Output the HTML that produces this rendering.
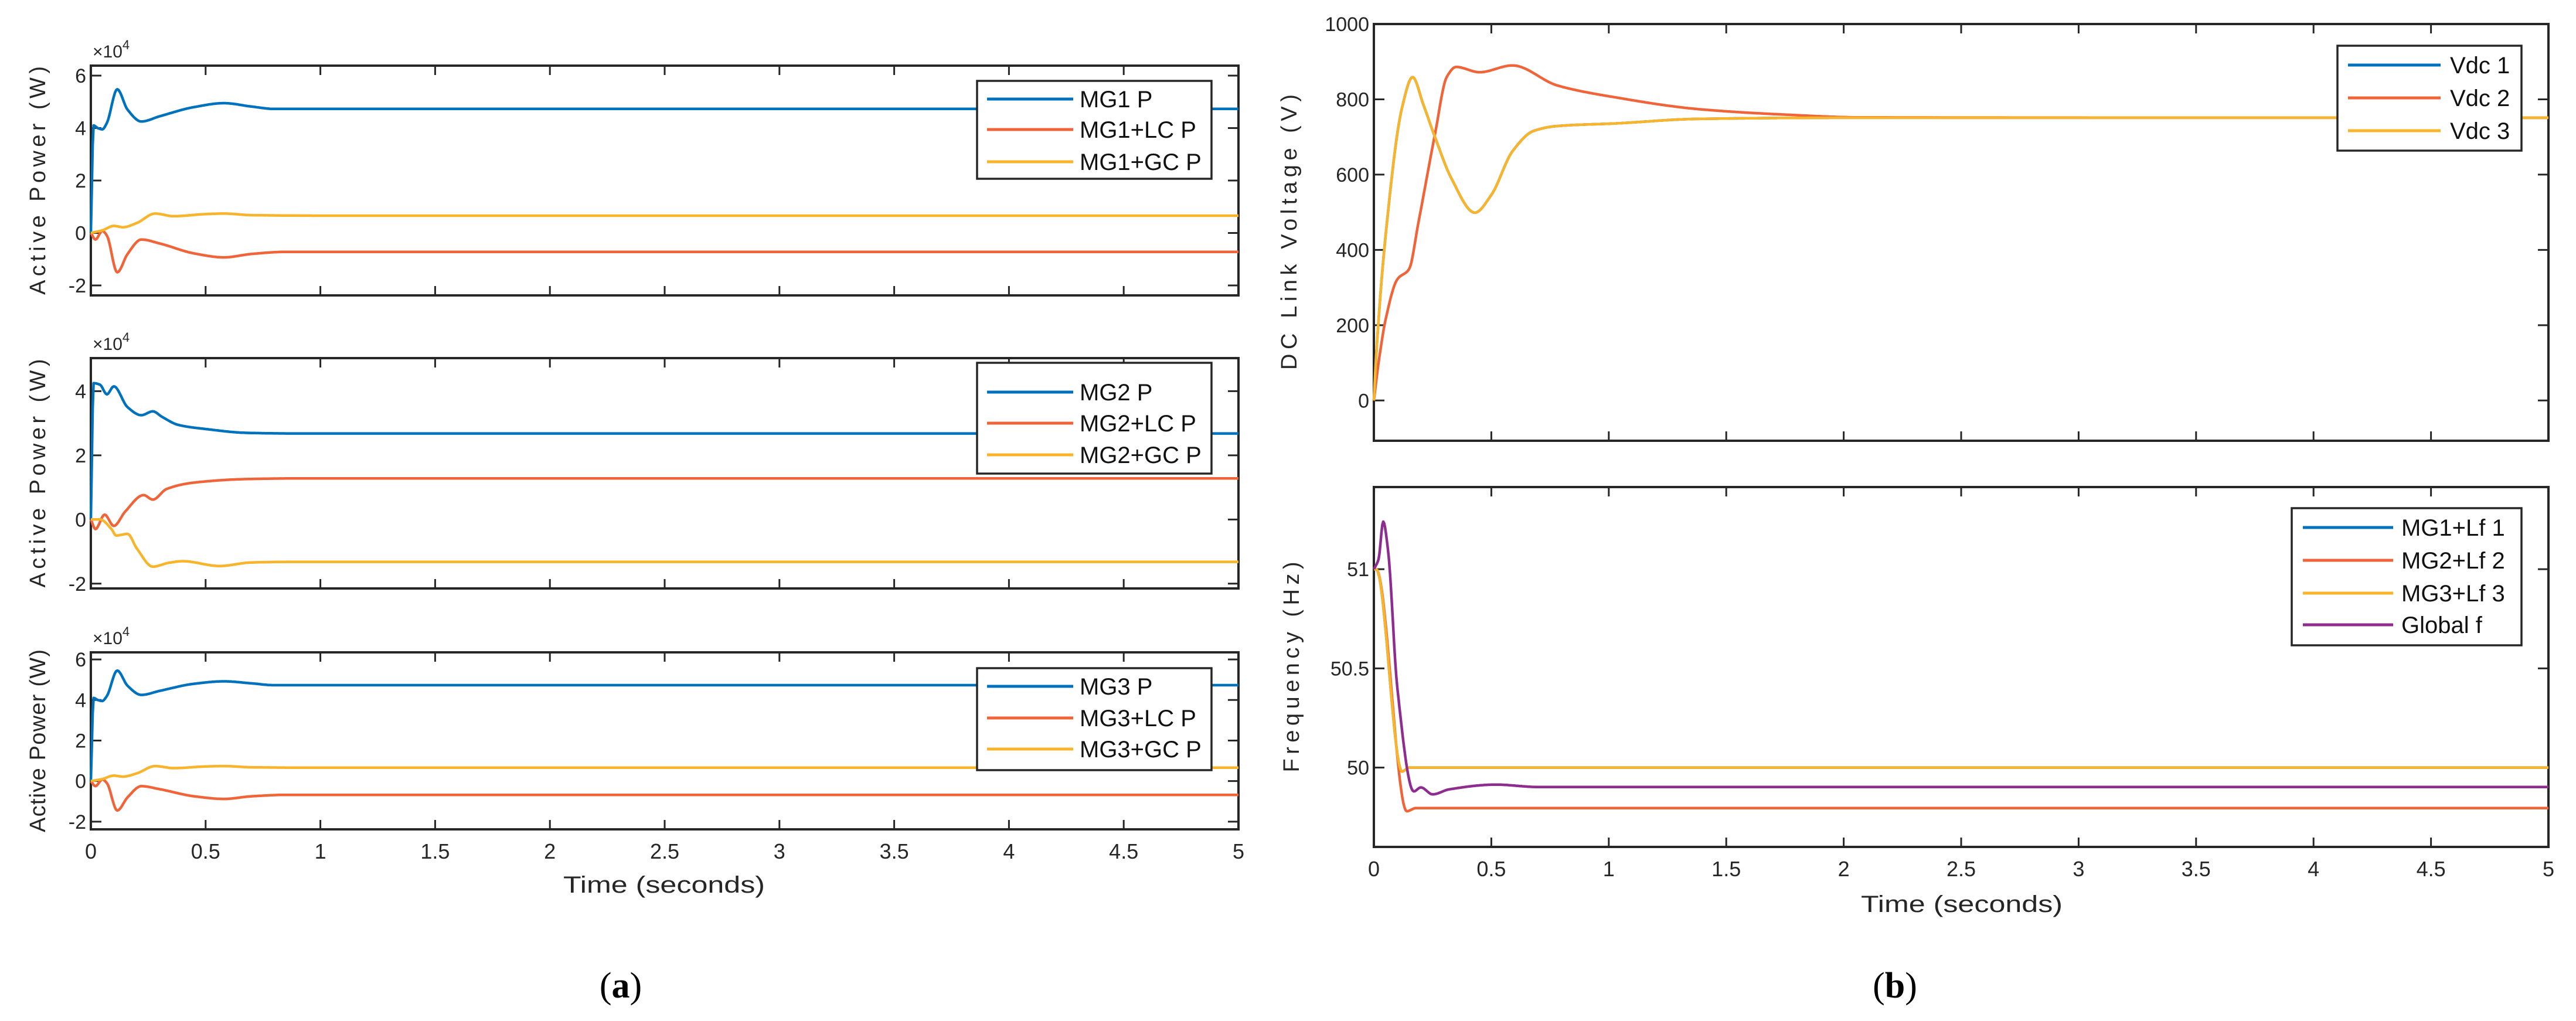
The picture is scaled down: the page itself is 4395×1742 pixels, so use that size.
<!DOCTYPE html>
<html><head><meta charset="utf-8"><style>
html,body{margin:0;padding:0;background:#fff;}
svg{display:block;font-family:"Liberation Sans",Arial,sans-serif;}
</style></head><body>
<svg id="fig" width="4395" height="1742" viewBox="0 0 4395 1742" xmlns="http://www.w3.org/2000/svg">
<rect x="0" y="0" width="4395" height="1742" fill="#fff"/>
</svg>
<script>
// ---------- data ----------
const xTicks = [0,0.5,1,1.5,2,2.5,3,3.5,4,4.5,5];
const xTickLabels = ["0","0.5","1","1.5","2","2.5","3","3.5","4","4.5","5"];
const pTicks = [-2,0,2,4,6];
const vTicks = [0,200,400,600,800,1000];
const fTicks = [50,50.5,51];
const fTickLabels = ["50","50.5","51"];

const mg1_t  = [0,0.012,0.03,0.05,0.07,0.115,0.16,0.22,0.3,0.45,0.58,0.7,0.8,1,5];
const mg1_p  = [0,4.1,4.0,3.95,4.2,5.48,4.7,4.25,4.45,4.8,4.95,4.82,4.73,4.73,4.73];
const mg1lc_t= [0,0.02,0.05,0.07,0.115,0.16,0.22,0.3,0.45,0.58,0.7,0.85,1,5];
const mg1lc_p= [0,-0.25,0.08,-0.1,-1.5,-0.8,-0.25,-0.4,-0.78,-0.93,-0.8,-0.72,-0.72,-0.72];
const mg1gc_t= [0,0.05,0.1,0.14,0.2,0.28,0.36,0.5,0.58,0.7,1,5];
const mg1gc_p= [0,0.1,0.27,0.22,0.38,0.74,0.64,0.72,0.74,0.68,0.66,0.66];

const mg2_t  = [0,0.012,0.04,0.07,0.1,0.16,0.22,0.27,0.31,0.38,0.5,0.68,0.9,5];
const mg2_p  = [0,4.25,4.2,3.9,4.15,3.5,3.25,3.37,3.2,2.95,2.82,2.7,2.68,2.68];
const mg2lc_t= [0,0.02,0.06,0.1,0.15,0.23,0.27,0.33,0.45,0.68,0.9,5];
const mg2lc_p= [0,-0.3,0.15,-0.2,0.25,0.76,0.62,0.95,1.15,1.26,1.28,1.28];
const mg2gc_t= [0,0.04,0.09,0.11,0.16,0.2,0.27,0.34,0.4,0.56,0.7,0.9,5];
const mg2gc_p= [0,0,-0.3,-0.5,-0.45,-0.9,-1.47,-1.35,-1.3,-1.45,-1.34,-1.32,-1.32];

const mg3_t  = [0,0.012,0.03,0.05,0.07,0.115,0.16,0.22,0.3,0.45,0.58,0.7,0.8,1,5];
const mg3_p  = [0,4.1,4.0,3.95,4.2,5.45,4.7,4.25,4.45,4.8,4.92,4.82,4.73,4.73,4.73];
const mg3lc_t= [0,0.02,0.05,0.07,0.115,0.16,0.22,0.3,0.45,0.58,0.7,0.85,1,5];
const mg3lc_p= [0,-0.25,0.08,-0.1,-1.45,-0.8,-0.25,-0.4,-0.75,-0.88,-0.75,-0.68,-0.68,-0.68];
const mg3gc_t= [0,0.05,0.1,0.14,0.2,0.28,0.36,0.5,0.58,0.7,1,5];
const mg3gc_p= [0,0.1,0.27,0.22,0.38,0.74,0.64,0.72,0.74,0.68,0.66,0.66];

const vdc2_t = [0,0.02,0.05,0.1,0.15,0.19,0.26,0.31,0.35,0.45,0.59,0.78,1.03,1.38,1.73,2.08,5];
const vdc2_v = [0,100,215,322,349,474,707,859,886,872,890,837,805,774,760,752,751];
const vdc3_t = [0,0.01,0.05,0.12,0.165,0.21,0.26,0.33,0.43,0.5,0.59,0.68,0.78,1.03,1.38,2,5];
const vdc3_v = [0,120,438,778,859,787,700,590,499,546,662,716,729,736,748,751,751];
const vdc1_t = [0,0.01,0.05,0.12,0.165,0.21,0.26,0.33,0.43,0.5,0.59,0.68,0.78,1.03,1.38,2,5];
const vdc1_v = [0,120,438,778,859,787,700,590,499,546,662,716,729,736,748,751,751];

const f1_t = [0,0.01,0.12,0.15,5];
const f1_v = [51,51,49.98,50,50];
const f2_t = [0,0.01,0.14,0.18,5];
const f2_v = [51,51,49.78,49.796,49.796];
const f3_t = [0,0.01,0.12,0.15,5];
const f3_v = [51,51,49.98,50,50];
const fg_t = [0,0.02,0.04,0.06,0.1,0.17,0.2,0.25,0.32,0.52,0.7,5];
const fg_v = [51,51.05,51.24,51.1,50.4,49.88,49.9,49.865,49.89,49.914,49.902,49.902];

const BLUE="#0072bd", ORANGE="#f0643a", YELLOW="#f8b42a", PURPLE="#8e2d8f";

// ---------- helpers ----------
const NS="http://www.w3.org/2000/svg";
const svg=document.getElementById('fig');
function mk(tag,attrs,parent){const e=document.createElementNS(NS,tag);for(const k in attrs)e.setAttribute(k,attrs[k]);(parent||svg).appendChild(e);return e;}
function linScale(d0,d1,r0,r1){return v=>r0+(v-d0)*(r1-r0)/(d1-d0);}
// monotone cubic (PCHIP) sampled as polyline in data space
function pchipPoints(ts,vs,xs,ys){
  const n=ts.length, h=[], d=[], m=new Array(n).fill(0);
  for(let i=0;i<n-1;i++){h[i]=ts[i+1]-ts[i];d[i]=(vs[i+1]-vs[i])/h[i];}
  m[0]=d[0]; m[n-1]=d[n-2];
  for(let i=1;i<n-1;i++){
    if(d[i-1]*d[i]<=0) m[i]=0;
    else{const w1=2*h[i]+h[i-1],w2=h[i]+2*h[i-1];m[i]=(w1+w2)/(w1/d[i-1]+w2/d[i]);}
  }
  const pts=[];
  for(let i=0;i<n-1;i++){
    const steps=Math.max(2,Math.min(60,Math.ceil((xs(ts[i+1])-xs(ts[i]))/2)));
    for(let k=0;k<steps;k++){
      const s=k/steps, s2=s*s, s3=s2*s;
      const v=(2*s3-3*s2+1)*vs[i]+(s3-2*s2+s)*h[i]*m[i]+(-2*s3+3*s2)*vs[i+1]+(s3-s2)*h[i]*m[i+1];
      pts.push([xs(ts[i]+s*h[i]),ys(v)]);
    }
  }
  pts.push([xs(ts[n-1]),ys(vs[n-1])]);
  return pts;
}
function axesBox(g,L,T,R,B,yTicks,yLabels,yScale,showX,xs){
  const fr=mk('rect',{x:L,y:T,width:R-L,height:B-T,fill:'none',stroke:'#262626','stroke-width':4},g);
  
  
  xTicks.forEach((t,i)=>{
    const x=xs(t);
    const a=mk('line',{x1:x,y1:B,x2:x,y2:B-16,stroke:'#262626','stroke-width':3},g);
    
    
    const b=mk('line',{x1:x,y1:T,x2:x,y2:T+16,stroke:'#262626','stroke-width':3},g);
    
    
    if(showX){
      const tx=mk('text',{x:x,y:B+50,'font-size':36,'text-anchor':'middle',fill:'#262626'},g);
      tx.textContent=xTickLabels[i];
      
      
    }
  });
  yTicks.forEach((v,i)=>{
    const y=yScale(v);
    const a=mk('line',{x1:L,y1:y,x2:L+18,y2:y,stroke:'#262626','stroke-width':3},g);
    
    
    const b=mk('line',{x1:R,y1:y,x2:R-18,y2:y,stroke:'#262626','stroke-width':3},g);
    
    
    const tx=mk('text',{x:L-8,y:y+12,'font-size':34,'text-anchor':'end',fill:'#262626'},g);
    tx.textContent=yLabels[i];
    
    
  });
}
function series(g,ts,vs,xs,ys,color,name){
  const pts=pchipPoints(ts,vs,xs,ys);
  const p=mk('polyline',{points:pts.map(q=>q[0].toFixed(1)+','+q[1].toFixed(1)).join(' '),fill:'none',stroke:color,'stroke-width':4.5,'stroke-linejoin':'round'},g);
  
  
}
function legend(g,x,y,w,h,rows,lx0,lx1,tx,names){
  const r=mk('rect',{x:x,y:y,width:w,height:h,fill:'#fff',stroke:'#262626','stroke-width':3.5},g);
  
  
  rows.forEach((row,i)=>{
    const l=mk('line',{x1:lx0,x2:lx1,y1:row[0],y2:row[0],stroke:row[1],'stroke-width':5},g);
    
    
    const t=mk('text',{x:tx,y:row[0]+14,'font-size':40,fill:'#111'},g);
    t.textContent=names[i];
    
    
  });
}
function ylabel(g,x,y,txt,len){
  const t=mk('text',{x:0,y:0,'font-size':38,'text-anchor':'middle',fill:'#262626',transform:`translate(${x},${y}) rotate(-90)`,textLength:len,lengthAdjust:'spacing'},g);
  t.textContent=txt;
  
  
}
function exponent(g,x,y){
  const t=mk('text',{x:x,y:y,'font-size':30,fill:'#262626'},g);
  t.textContent='×10';
  const s=mk('tspan',{dy:-14,'font-size':22},t);
  s.textContent='4';
  
  
}

// ---------- panel (a) ----------
const AL=155, AR=2113;
const xsA=linScale(0,5,AL,AR);
function powerPanel(name,T,B,ymin,ymax,ts,leg,names,showX){
  const g=mk('g',{});
  
  
  const ys=linScale(ymin,ymax,B,T);
  const tk=pTicks.filter(v=>v>=ymin&&v<=ymax);
  axesBox(g,AL,T,AR,B,tk,tk.map(String),ys,showX,xsA);
  series(g,ts[0],ts[1],xsA,ys,BLUE,'series-p');
  series(g,ts[2],ts[3],xsA,ys,ORANGE,'series-lc-p');
  series(g,ts[4],ts[5],xsA,ys,YELLOW,'series-gc-p');
  legend(g,1667,leg[0],400,leg[1]-leg[0],[[leg[2],BLUE],[leg[3],ORANGE],[leg[4],YELLOW]],1684,1831,1842,names);
  exponent(g,158,T-14);
  ylabel(g,77,(T+B)/2,'Active Power (W)',Math.min(390,B-T+10));
}
powerPanel('plot-mg1',112,504,-2.38,6.38,[mg1_t,mg1_p,mg1lc_t,mg1lc_p,mg1gc_t,mg1gc_p],[138,305,169,221,276],['MG1 P','MG1+LC P','MG1+GC P'],false);
powerPanel('plot-mg2',611,1004,-2.15,5.03,[mg2_t,mg2_p,mg2lc_t,mg2lc_p,mg2gc_t,mg2gc_p],[619,808,669,722,776],['MG2 P','MG2+LC P','MG2+GC P'],false);
powerPanel('plot-mg3',1113,1415,-2.38,6.35,[mg3_t,mg3_p,mg3lc_t,mg3lc_p,mg3gc_t,mg3gc_p],[1140,1314,1171,1225,1278],['MG3 P','MG3+LC P','MG3+GC P'],true);

// ---------- panel (b) ----------
const BL=2344, BR=4348;
const xsB=linScale(0,5,BL,BR);
(function(){
  const g=mk('g',{});
  
  
  const T=41,B=752;
  const ys=linScale(-107,1000,B,T);
  axesBox(g,BL,T,BR,B,vTicks,vTicks.map(String),ys,false,xsB);
  series(g,vdc1_t,vdc1_v,xsB,ys,BLUE,'series-vdc1');
  series(g,vdc2_t,vdc2_v,xsB,ys,ORANGE,'series-vdc2');
  series(g,vdc3_t,vdc3_v,xsB,ys,YELLOW,'series-vdc3');
  legend(g,3988,78,314,179,[[111,BLUE],[167,ORANGE],[223,YELLOW]],4006,4164,4180,['Vdc 1','Vdc 2','Vdc 3']);
  ylabel(g,2212,396,'DC Link Voltage (V)',470);
})();
(function(){
  const g=mk('g',{});
  
  
  const T=831,B=1445;
  const ys=linScale(49.6,51.414,B,T);
  axesBox(g,BL,T,BR,B,fTicks,fTickLabels,ys,true,xsB);
  series(g,f1_t,f1_v,xsB,ys,BLUE,'series-mg1-f');
  series(g,f2_t,f2_v,xsB,ys,ORANGE,'series-mg2-f');
  series(g,f3_t,f3_v,xsB,ys,YELLOW,'series-mg3-f');
  series(g,fg_t,fg_v,xsB,ys,PURPLE,'series-global-f');
  legend(g,3910,867,392,234,[[900,BLUE],[956,ORANGE],[1012,YELLOW],[1066,PURPLE]],3929,4083,4097,['MG1+Lf 1','MG2+Lf 2','MG3+Lf 3','Global f']);
  ylabel(g,2216,1138,'Frequency (Hz)',359);
})();

// ---------- x titles & captions ----------
[[1133,1523],[3347,1556]].forEach(p=>{
  const t=mk('text',{x:p[0],y:p[1],'font-size':40,'text-anchor':'middle',fill:'#262626',textLength:344,lengthAdjust:'spacingAndGlyphs'});
  t.textContent='Time (seconds)';
  
  
});
[[1059,'a'],[3233,'b']].forEach(p=>{
  const t=mk('text',{x:p[0],y:1702,'font-size':62,'text-anchor':'middle',fill:'#000','font-family':'Liberation Serif, serif'});
  t.appendChild(document.createTextNode('('));
  const b=mk('tspan',{'font-weight':'bold'},t);
  b.textContent=p[1];
  t.appendChild(document.createTextNode(')'));
  
  
});
</script>
</body></html>
